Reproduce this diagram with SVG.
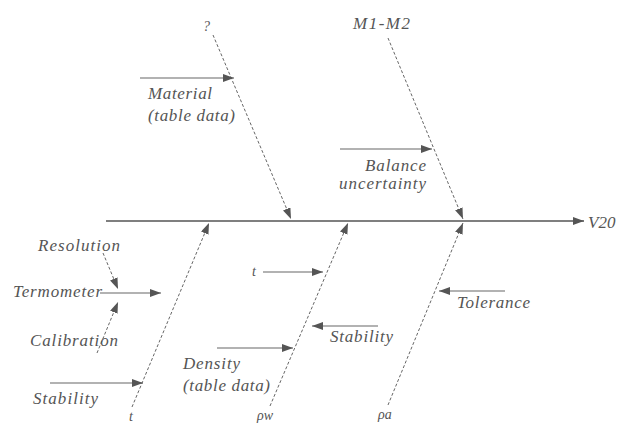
<svg xmlns="http://www.w3.org/2000/svg" width="621" height="425" viewBox="0 0 621 425">
<style>
text{font-family:"Liberation Serif","DejaVu Serif",serif;font-style:italic;font-size:17px;fill:#555}
.sym{font-size:14px}
.spine{stroke:#555;stroke-width:1.6;fill:none}
.dash{stroke:#666;stroke-width:1;stroke-dasharray:3 2;fill:none}
.solid{stroke:#666;stroke-width:1.2;fill:none}
</style>
<defs>
<marker id="ah" markerUnits="userSpaceOnUse" markerWidth="12" markerHeight="9" refX="11" refY="4" orient="auto">
<path d="M0,0 L11,4 L0,8 Z" fill="#555"/>
</marker>
</defs>
<rect width="621" height="425" fill="#fff"/>
<g id="connectors">
<line class="spine" x1="106" y1="221" x2="584" y2="221" marker-end="url(#ah)"/>
<line class="dash" x1="213" y1="35" x2="291" y2="219" marker-end="url(#ah)"/>
<line class="dash" x1="388" y1="38" x2="463" y2="219" marker-end="url(#ah)"/>
<line class="dash" x1="132" y1="407" x2="209" y2="223" marker-end="url(#ah)"/>
<line class="dash" x1="270" y1="406" x2="348" y2="223" marker-end="url(#ah)"/>
<line class="dash" x1="388" y1="405" x2="463" y2="223" marker-end="url(#ah)"/>
<line class="solid" x1="140" y1="78" x2="234" y2="78" marker-end="url(#ah)"/>
<line class="solid" x1="340" y1="149" x2="432" y2="149" marker-end="url(#ah)"/>
<line class="dash" x1="103" y1="253" x2="118" y2="289" marker-end="url(#ah)"/>
<line class="solid" x1="100" y1="293" x2="161" y2="293" marker-end="url(#ah)"/>
<line class="dash" x1="97" y1="353" x2="118" y2="302" marker-end="url(#ah)"/>
<line class="solid" x1="50" y1="383" x2="143" y2="383" marker-end="url(#ah)"/>
<line class="solid" x1="263" y1="272" x2="323" y2="272" marker-end="url(#ah)"/>
<line class="solid" x1="217" y1="348" x2="293" y2="348" marker-end="url(#ah)"/>
<line class="solid" x1="378" y1="326" x2="312" y2="326" marker-end="url(#ah)"/>
<line class="solid" x1="505" y1="291" x2="439" y2="291" marker-end="url(#ah)"/>
</g>
<g id="effect"><text x="588" y="228" font-size="18">V20</text></g>
<g id="rho"><text class="sym" x="203" y="31">?</text></g>
<g id="m1m2"><text x="353" y="29" textLength="57" lengthAdjust="spacing">M1-M2</text></g>
<g id="material"><text x="148" y="99" textLength="64" lengthAdjust="spacing">Material</text><text x="148" y="121" textLength="87" lengthAdjust="spacing">(table data)</text></g>
<g id="balance"><text x="365" y="171" textLength="61" lengthAdjust="spacing">Balance</text><text x="339" y="189" textLength="87" lengthAdjust="spacing">uncertainty</text></g>
<g id="resolution"><text x="38" y="251" textLength="82" lengthAdjust="spacing">Resolution</text></g>
<g id="termometer"><text x="13" y="297" textLength="89" lengthAdjust="spacing">Termometer</text></g>
<g id="calibration"><text x="30" y="346" textLength="88" lengthAdjust="spacing">Calibration</text></g>
<g id="stability1"><text x="33" y="404" textLength="65" lengthAdjust="spacing">Stability</text></g>
<g id="t1"><text class="sym" x="129" y="421">t</text></g>
<g id="t2"><text class="sym" x="252" y="276">t</text></g>
<g id="density"><text x="183" y="369" textLength="57" lengthAdjust="spacing">Density</text><text x="183" y="391" textLength="87" lengthAdjust="spacing">(table data)</text></g>
<g id="stability2"><text x="330" y="342" textLength="63" lengthAdjust="spacing">Stability</text></g>
<g id="rhow"><text class="sym" x="257" y="420">ρw</text></g>
<g id="tolerance"><text x="457" y="308" textLength="73" lengthAdjust="spacing">Tolerance</text></g>
<g id="rhoa"><text class="sym" x="378" y="419">ρa</text></g>
</svg>
